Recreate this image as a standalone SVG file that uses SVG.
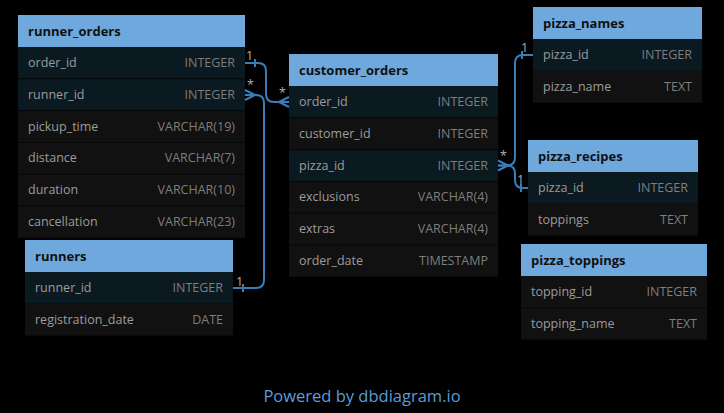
<svg xmlns="http://www.w3.org/2000/svg" width="724" height="413" viewBox="0 0 724 413">
<style>
.bg{fill:#000}
.hdr{fill:#6fa8dc}
.key{fill:#0b1920}
.row{fill:#111111}
.sep{stroke:#070707;stroke-width:1}
.title{font-family:"Open Sans","Noto Sans",sans-serif;font-size:13px;font-weight:bold;fill:#111}
.fn{font-family:"Open Sans","Noto Sans",sans-serif;font-size:12.5px;fill:#9c9c9c}
.ft{font-family:"Open Sans","Noto Sans",sans-serif;font-size:12.5px;fill:#7e7e7e;text-anchor:end}
.conn{fill:none;stroke:#3b7db8;stroke-width:2}
.lbl{font-family:"Open Sans","Noto Sans",sans-serif;font-size:12.5px;fill:#b0b0b0}
.pw{font-family:"Open Sans","Noto Sans",sans-serif;font-size:16.5px;fill:#5c9bd8;text-anchor:middle}
</style>
<rect class="bg" x="0" y="0" width="724" height="413"/>

<g id="runner_orders">
<rect class="hdr" x="18" y="15" width="227" height="32"/>
<text class="title" x="28" y="35.5">runner_orders</text>
<rect class="key" x="18" y="47" width="227" height="31.8"/>
<rect class="key" x="18" y="78.8" width="227" height="31.8"/>
<rect class="row" x="18" y="110.6" width="227" height="127.2"/>
<line class="sep" x1="18" y1="78.8" x2="245" y2="78.8"/>
<line class="sep" x1="18" y1="110.6" x2="245" y2="110.6"/>
<line class="sep" x1="18" y1="142.4" x2="245" y2="142.4"/>
<line class="sep" x1="18" y1="174.2" x2="245" y2="174.2"/>
<line class="sep" x1="18" y1="206" x2="245" y2="206"/>
<text class="fn" x="28" y="67">order_id</text><text class="ft" x="235" y="67">INTEGER</text>
<text class="fn" x="28" y="98.8">runner_id</text><text class="ft" x="235" y="98.8">INTEGER</text>
<text class="fn" x="28" y="130.6">pickup_time</text><text class="ft" x="235" y="130.6">VARCHAR(19)</text>
<text class="fn" x="28" y="162.4">distance</text><text class="ft" x="235" y="162.4">VARCHAR(7)</text>
<text class="fn" x="28" y="194.2">duration</text><text class="ft" x="235" y="194.2">VARCHAR(10)</text>
<text class="fn" x="28" y="226">cancellation</text><text class="ft" x="235" y="226">VARCHAR(23)</text>
</g>

<g id="runners">
<rect class="hdr" x="25" y="240" width="208" height="32"/>
<text class="title" x="35" y="260.5">runners</text>
<rect class="key" x="25" y="272" width="208" height="31.8"/>
<rect class="row" x="25" y="303.8" width="208" height="31.8"/>
<text class="fn" x="35" y="292">runner_id</text><text class="ft" x="223" y="292">INTEGER</text>
<text class="fn" x="35" y="323.8">registration_date</text><text class="ft" x="223" y="323.8">DATE</text>
</g>

<g id="customer_orders">
<rect class="hdr" x="289" y="54" width="209" height="32"/>
<text class="title" x="299" y="74.5">customer_orders</text>
<rect class="key" x="289" y="86" width="209" height="31.8"/>
<rect class="row" x="289" y="117.8" width="209" height="31.8"/>
<rect class="key" x="289" y="149.6" width="209" height="31.8"/>
<rect class="row" x="289" y="181.4" width="209" height="95.4"/>
<line class="sep" x1="289" y1="117.8" x2="498" y2="117.8"/>
<line class="sep" x1="289" y1="149.6" x2="498" y2="149.6"/>
<line class="sep" x1="289" y1="181.4" x2="498" y2="181.4"/>
<line class="sep" x1="289" y1="213.2" x2="498" y2="213.2"/>
<line class="sep" x1="289" y1="245" x2="498" y2="245"/>
<text class="fn" x="299" y="106">order_id</text><text class="ft" x="488" y="106">INTEGER</text>
<text class="fn" x="299" y="137.8">customer_id</text><text class="ft" x="488" y="137.8">INTEGER</text>
<text class="fn" x="299" y="169.6">pizza_id</text><text class="ft" x="488" y="169.6">INTEGER</text>
<text class="fn" x="299" y="201.4">exclusions</text><text class="ft" x="488" y="201.4">VARCHAR(4)</text>
<text class="fn" x="299" y="233.2">extras</text><text class="ft" x="488" y="233.2">VARCHAR(4)</text>
<text class="fn" x="299" y="265">order_date</text><text class="ft" x="488" y="265">TIMESTAMP</text>
</g>

<g id="pizza_names">
<rect class="hdr" x="533" y="7" width="169" height="32"/>
<text class="title" x="543" y="27.5">pizza_names</text>
<rect class="key" x="533" y="39" width="169" height="31.8"/>
<rect class="row" x="533" y="70.8" width="169" height="31.8"/>
<text class="fn" x="543" y="59">pizza_id</text><text class="ft" x="692" y="59">INTEGER</text>
<text class="fn" x="543" y="90.8">pizza_name</text><text class="ft" x="692" y="90.8">TEXT</text>
</g>

<g id="pizza_recipes">
<rect class="hdr" x="528" y="140" width="170" height="32"/>
<text class="title" x="538" y="160.5">pizza_recipes</text>
<rect class="key" x="528" y="172" width="170" height="31.8"/>
<rect class="row" x="528" y="203.8" width="170" height="31.8"/>
<text class="fn" x="538" y="192">pizza_id</text><text class="ft" x="688" y="192">INTEGER</text>
<text class="fn" x="538" y="223.8">toppings</text><text class="ft" x="688" y="223.8">TEXT</text>
</g>

<g id="pizza_toppings">
<rect class="hdr" x="521" y="244" width="186" height="32"/>
<text class="title" x="531" y="264.5">pizza_toppings</text>
<rect class="row" x="521" y="276" width="186" height="63.6"/>
<line class="sep" x1="521" y1="307.8" x2="707" y2="307.8"/>
<text class="fn" x="531" y="296">topping_id</text><text class="ft" x="697" y="296">INTEGER</text>
<text class="fn" x="531" y="327.8">topping_name</text><text class="ft" x="697" y="327.8">TEXT</text>
</g>

<g id="connectors">
<path class="conn" d="M245,63 H258 Q266,63 266,71 V94 Q266,102 274,102 H289"/>
<path class="conn" d="M255,59 V67"/>
<path class="conn" d="M279,102 L289,97 M279,102 L289,107"/>
<text class="lbl" x="246" y="60">1</text>
<text class="lbl" x="279" y="97">*</text>

<path class="conn" d="M233,288 H256 Q264,288 264,280 V103 Q264,95 256,95 H245"/>
<path class="conn" d="M243,284 V292"/>
<path class="conn" d="M255,95 L245,90 M255,95 L245,100"/>
<text class="lbl" x="236" y="286">1</text>
<text class="lbl" x="247" y="89">*</text>

<path class="conn" d="M498,165.5 H507 Q515,165.5 515,157.5 V63 Q515,55 523,55 H533"/>
<path class="conn" d="M522,51 V59"/>
<text class="lbl" x="521" y="52">1</text>

<path class="conn" d="M498,165.5 H507 Q515,165.5 515,173.5 V180 Q515,188 523,188 H528"/>
<path class="conn" d="M521,184 V192"/>
<text class="lbl" x="517" y="184">1</text>

<path class="conn" d="M508,165.5 L498,160.5 M508,165.5 L498,170.5"/>
<text class="lbl" x="500" y="160">*</text>
</g>

<text class="pw" x="362" y="402">Powered by dbdiagram.io</text>
</svg>
